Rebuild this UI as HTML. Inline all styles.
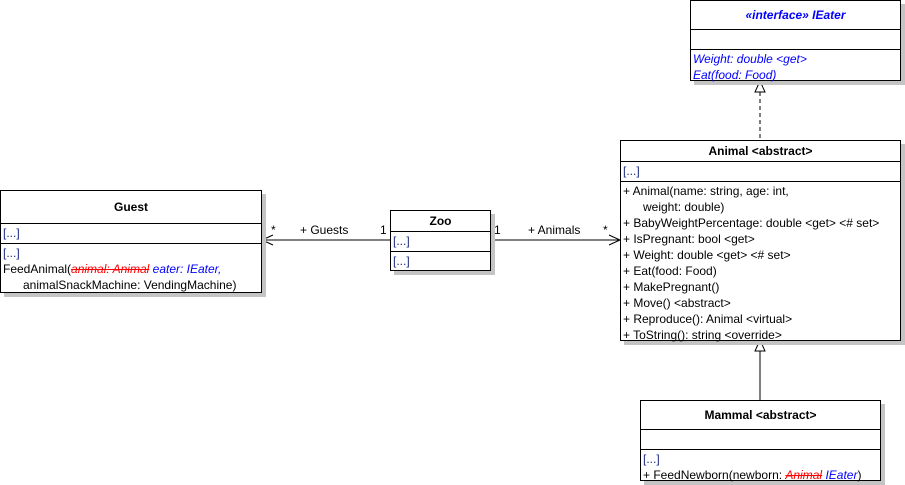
<!DOCTYPE html>
<html><head><style>
body{margin:0;width:905px;height:485px;background:#fff;position:relative;overflow:hidden;font-family:"Liberation Sans",Arial,sans-serif;font-size:12px;color:#000}
.b{position:absolute;background:#fff;border:1px solid #000;box-shadow:4px 4px 0 #c4c4c4;box-sizing:border-box}
.s{border-top:1px solid #000;box-sizing:border-box;padding:1px 2px 0 2px;line-height:16px;white-space:nowrap}
.t{text-align:center;font-weight:bold;box-sizing:border-box}
.d{color:#1a2a80}
.r{color:#f00;font-style:italic;text-decoration:line-through}
.bl{color:#00f;font-style:italic}
.l{position:absolute;white-space:nowrap;line-height:12px}
</style></head><body>
<svg width="905" height="485" style="position:absolute;left:0;top:0">
<line x1="262" y1="240" x2="390" y2="240" stroke="#000"/>
<polyline points="273,235 262,240 273,245" fill="none" stroke="#000"/>
<line x1="491" y1="240" x2="620" y2="240" stroke="#000"/>
<polyline points="609,235 620,240 609,245" fill="none" stroke="#000"/>
<line x1="760" y1="92" x2="760" y2="140" stroke="#000" stroke-dasharray="4,3"/>
<polygon points="760,81 755,92 765,92" fill="#fff" stroke="#000"/>
<line x1="760" y1="351" x2="760" y2="400" stroke="#000"/>
<polygon points="760,340 755,351 765,351" fill="#fff" stroke="#000"/>
</svg>

<div class="b" style="left:690px;top:0;width:211px;height:81px">
<div class="t bl" style="height:28px;line-height:28px;font-weight:bold">«interface» IEater</div>
<div class="s" style="height:20px"></div>
<div class="s bl">Weight: double &lt;get&gt;<br>Eat(food: Food)</div>
</div>

<div class="b" style="left:620px;top:140px;width:281px;height:201px">
<div class="t" style="height:20px;line-height:20px">Animal &lt;abstract&gt;</div>
<div class="s d" style="height:20px">[...]</div>
<div class="s">+ Animal(name: string, age: int,<br>&nbsp;&nbsp;&nbsp;&nbsp;&nbsp;&nbsp;weight: double)<br>+ BabyWeightPercentage: double &lt;get&gt; &lt;# set&gt;<br>+ IsPregnant: bool &lt;get&gt;<br>+ Weight: double &lt;get&gt; &lt;# set&gt;<br>+ Eat(food: Food)<br>+ MakePregnant()<br>+ Move() &lt;abstract&gt;<br>+ Reproduce(): Animal &lt;virtual&gt;<br>+ ToString(): string &lt;override&gt;</div>
</div>

<div class="b" style="left:0;top:190px;width:262px;height:103px">
<div class="t" style="height:32px;line-height:33px">Guest</div>
<div class="s d" style="height:20px">[...]</div>
<div class="s"><span class="d">[...]</span><br>FeedAnimal(<span class="r">animal: Animal</span> <span class="bl">eater: IEater,</span><br>&nbsp;&nbsp;&nbsp;&nbsp;&nbsp;&nbsp;animalSnackMachine: VendingMachine)</div>
</div>

<div class="b" style="left:390px;top:210px;width:101px;height:61px">
<div class="t" style="height:20px;line-height:20px">Zoo</div>
<div class="s d" style="height:20px">[...]</div>
<div class="s d" style="height:19px">[...]</div>
</div>

<div class="b" style="left:640px;top:400px;width:241px;height:81px">
<div class="t" style="height:28px;line-height:28px">Mammal &lt;abstract&gt;</div>
<div class="s" style="height:20px"></div>
<div class="s"><span class="d">[...]</span><br>+ FeedNewborn(newborn: <span class="r">Animal</span> <span class="bl">IEater</span>)</div>
</div>

<div class="l" style="left:271px;top:224px">*</div>
<div class="l" style="left:300px;top:224px">+ Guests</div>
<div class="l" style="left:380px;top:224px">1</div>
<div class="l" style="left:494px;top:224px">1</div>
<div class="l" style="left:528px;top:224px">+ Animals</div>
<div class="l" style="left:603px;top:224px">*</div>
</body></html>
